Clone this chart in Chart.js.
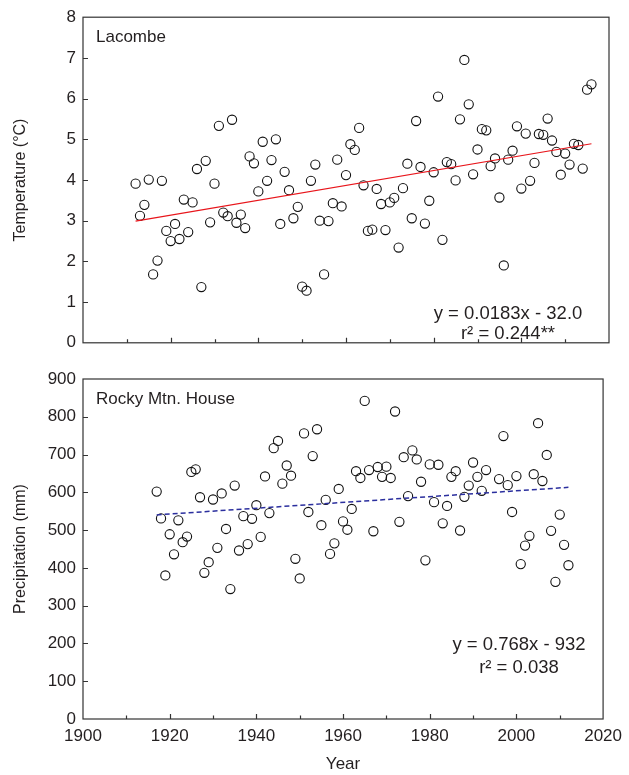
<!DOCTYPE html>
<html>
<head>
<meta charset="utf-8">
<script src="https://cdn.jsdelivr.net/npm/chart.js@4"></script>
<style>
  body { margin: 0; background: #fff; }
  canvas { position: absolute; left: 0; }
  #tempChart { top: 0; }
  #precChart { top: 360px; }
</style>
</head>
<body>
<canvas id="tempChart" width="629" height="360"></canvas>
<canvas id="precChart" width="629" height="415"></canvas>
<script>
// Lacombe mean annual temperature, 1912-2016
var tempYears = [];
for (var yr = 1912; yr <= 2016; yr++) tempYears.push(yr);
var tempValues = [
    3.91, 3.12, 3.39, 4.01, 1.68, 2.02, 3.98, 2.75, 2.50, 2.92,
    2.55, 3.52, 2.72, 3.45, 4.27, 1.37, 4.47, 2.96, 3.91, 5.33,
    3.20, 3.11, 5.48, 2.95, 3.15, 2.82, 4.58, 4.41, 3.72, 4.94,
    3.98, 4.49, 5.00, 2.92, 4.20, 3.75, 3.06, 3.34, 1.38, 1.28,
    3.98, 4.38, 3.00, 1.68, 2.99, 3.43, 4.50, 3.35, 4.12, 4.88,
    4.74, 5.28, 3.87, 2.75, 2.78, 3.78, 3.41, 2.77, 3.45, 3.56,
    2.34, 3.80, 4.40, 3.06, 5.45, 4.32, 2.93, 3.49, 4.19, 6.05,
    2.53, 4.44, 4.39, 3.99, 5.49, 6.95, 5.86, 4.14, 4.75, 5.25,
    5.22, 4.34, 4.53, 3.57, 1.90, 4.50, 4.72, 5.32, 3.79, 5.14,
    3.98, 4.42, 5.13, 5.11, 5.51, 4.97, 4.69, 4.13, 4.65, 4.38,
    4.89, 4.86, 4.28, 6.22, 6.35
];
var tempTrendYears = [1912, 2016];
var tempTrendValues = [2.99, 4.89];

// Rocky Mtn. House annual precipitation (1994-1995 missing)
var precYears = [];
for (var yr = 1917; yr <= 1993; yr++) precYears.push(yr);
for (var yr = 1996; yr <= 2012; yr++) precYears.push(yr);
var precValues = [
    602, 531, 380, 489, 436, 526, 468, 483, 654, 661,
    587, 387, 415, 581, 453, 597, 503, 344, 618, 446,
    537, 463, 530, 566, 482, 642, 545, 717, 736, 623,
    671, 644, 424, 372, 756, 548, 696, 767, 513, 580,
    437, 465, 609, 523, 501, 556, 656, 638, 842, 659,
    497, 667, 641, 668, 638, 814, 522, 693, 590, 711,
    687, 628, 420, 674, 574, 673, 518, 564, 641, 656,
    499, 588, 618, 679, 641, 604, 659,
    635, 749, 619, 548, 643, 410, 459, 485, 648, 783,
    630, 699, 498, 363, 541, 461, 407
];
var precTrendYears = [1917, 2012];
var precTrendValues = [540.3, 613.2];

var FONT = "'Liberation Sans', Arial, Helvetica, sans-serif";
var INK = '#231f20';

function toPoints(xs, ys) {
    return xs.map(function (x, i) { return { x: x, y: ys[i] }; });
}

// frame, inward tick marks and in-panel text
var framePlugin = {
    id: 'frame',
    afterDraw: function (chart, args, opts) {
        var ctx = chart.ctx, a = chart.chartArea;
        var xs = chart.scales.x, ys = chart.scales.y;
        ctx.save();
        ctx.strokeStyle = '#333';
        ctx.lineWidth = 1.2;
        ctx.beginPath();
        xs.ticks.forEach(function (t) {
            if (t.value <= xs.min || t.value >= xs.max) return;
            var px = Math.round(xs.getPixelForValue(t.value)) + 0.5;
            var len = t.value % 20 === 0 ? 5 : 3.5;
            ctx.moveTo(px, a.bottom);
            ctx.lineTo(px, a.bottom - len);
        });
        ys.ticks.forEach(function (t) {
            if (t.value <= ys.min || t.value >= ys.max) return;
            var py = Math.round(ys.getPixelForValue(t.value)) + 0.5;
            ctx.moveTo(a.left, py);
            ctx.lineTo(a.left + 5, py);
        });
        ctx.stroke();
        ctx.strokeRect(a.left, a.top, a.right - a.left, a.bottom - a.top);

        ctx.fillStyle = INK;
        ctx.textBaseline = 'alphabetic';
        ctx.font = '17px ' + FONT;
        ctx.textAlign = 'left';
        ctx.fillText(opts.site, a.left + 13, a.top + 25);
        ctx.font = '18.5px ' + FONT;
        ctx.textAlign = 'center';
        opts.lines.forEach(function (ln) {
            ctx.fillText(ln.text, ln.x, a.top + ln.dy);
        });
        ctx.restore();
    }
};

function makeChart(id, cfg) {
    var ctx = document.getElementById(id).getContext('2d');
    return new Chart(ctx, {
        type: 'scatter',
        data: {
            datasets: [{
                data: toPoints(cfg.years, cfg.values),
                pointStyle: 'circle',
                pointRadius: 4.6,
                pointBorderWidth: 1.1,
                pointBorderColor: '#111',
                pointBackgroundColor: 'rgba(255,255,255,0)',
                order: 1
            }, {
                type: 'line',
                data: toPoints(cfg.trendYears, cfg.trendValues),
                borderColor: cfg.trendColor,
                borderWidth: cfg.trendWidth,
                borderDash: cfg.trendDash,
                pointRadius: 0,
                fill: false,
                order: 0
            }]
        },
        options: {
            responsive: false,
            animation: false,
            layout: { padding: { top: cfg.padTop, right: 20, left: 0, bottom: 0 } },
            plugins: {
                legend: { display: false },
                tooltip: { enabled: false },
                frame: { site: cfg.site, lines: cfg.lines }
            },
            scales: {
                x: {
                    type: 'linear',
                    min: 1900,
                    max: 2020,
                    grid: { display: false, drawTicks: false },
                    border: { display: false },
                    ticks: {
                        display: cfg.showX,
                        stepSize: 10,
                        autoSkip: false,
                        maxRotation: 0,
                        padding: 7,
                        color: INK,
                        font: { family: FONT, size: 17 },
                        callback: function (v) { return v % 20 === 0 ? v : ''; }
                    },
                    title: {
                        display: cfg.showX,
                        text: 'Year',
                        color: INK,
                        font: { family: FONT, size: 17 },
                        padding: { top: 7, bottom: 0 }
                    },
                    afterFit: function (s) { s.height = cfg.xHeight; }
                },
                y: {
                    min: 0,
                    max: cfg.yMax,
                    grid: { display: false, drawTicks: false },
                    border: { display: false },
                    ticks: {
                        stepSize: cfg.yStep,
                        padding: 7,
                        color: INK,
                        font: { family: FONT, size: 17 }
                    },
                    title: {
                        display: true,
                        text: cfg.yTitle,
                        color: INK,
                        font: { family: FONT, size: 16 },
                        padding: { top: 11, bottom: 0 }
                    },
                    afterFit: function (s) { s.width = 83; }
                }
            }
        },
        plugins: [framePlugin]
    });
}

makeChart('tempChart', {
    years: tempYears, values: tempValues,
    trendYears: tempTrendYears, trendValues: tempTrendValues,
    trendColor: '#e8151b', trendWidth: 1.2, trendDash: [],
    padTop: 16, xHeight: 6, showX: false, yMax: 8, yStep: 1,
    yTitle: 'Temperature (\u00B0C)', site: 'Lacombe',
    lines: [
        { text: 'y = 0.0183x - 32.0', x: 508, dy: 302 },
        { text: 'r\u00B2 = 0.244**', x: 508, dy: 322 }
    ]
});

makeChart('precChart', {
    years: precYears, values: precValues,
    trendYears: precTrendYears, trendValues: precTrendValues,
    trendColor: '#2b2f9e', trendWidth: 1.5, trendDash: [5, 3],
    padTop: 19, xHeight: 56, showX: true, yMax: 900, yStep: 100,
    yTitle: 'Precipitation (mm)', site: 'Rocky Mtn. House',
    lines: [
        { text: 'y = 0.768x - 932', x: 519, dy: 271 },
        { text: 'r\u00B2 = 0.038', x: 519, dy: 294 }
    ]
});
</script>
</body>
</html>
